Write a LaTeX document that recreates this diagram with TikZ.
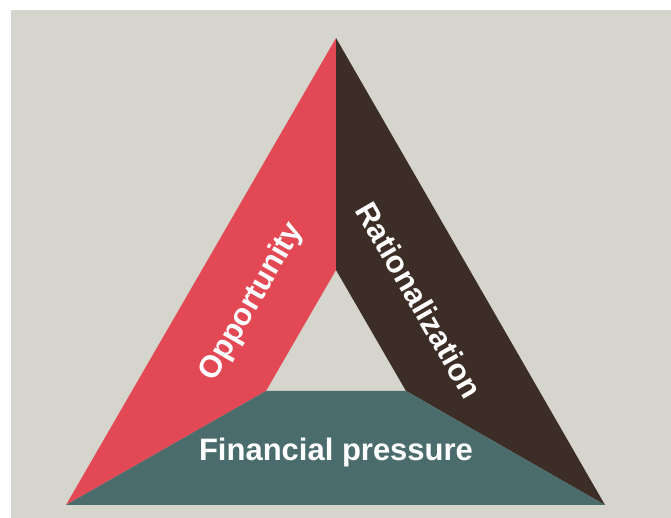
\documentclass[tikz,border=0pt]{standalone}
\usepackage{fontspec}
\setmainfont{Liberation Sans}
\usetikzlibrary{positioning}
\definecolor{paper}{HTML}{D5D5CD}
\definecolor{sideA}{HTML}{E34954}
\definecolor{sideB}{HTML}{3D2D27}
\definecolor{sideC}{HTML}{4A6C6D}

\begin{document}
\begin{tikzpicture}[
  x=1pt, y=1pt,
  side/.style={font=\fontsize{31}{31}\selectfont\bfseries, text=white, inner sep=0pt},
]
  \useasboundingbox (0,0) rectangle (671,518);
  \fill[paper] (11,0) rectangle (671,508);

  % Outer and inner corners
  \coordinate (top) at (336,480);
  \coordinate (bl)  at (66,13);
  \coordinate (br)  at (605,13);
  \coordinate (itop) at (336,248);
  \coordinate (il)   at (266,127);
  \coordinate (ir)   at (406,127);

  % Three bands
  \fill[sideA] (top) -- (bl) -- (il) -- (itop) -- cycle;
  \fill[sideB] (top) -- (itop) -- (ir) -- (br) -- cycle;
  \fill[sideC] (bl) -- (il) -- (ir) -- (br) -- cycle;

  % Labels
  \node[side, rotate=60] (opp) at (252,216) {Opportunity};
  \node[side, rotate=-60] (rat) at (419,218) {Rationalization};
  \node[side, anchor=base] (fin) at (336,57) {Financial pressure};
\end{tikzpicture}
\end{document}
